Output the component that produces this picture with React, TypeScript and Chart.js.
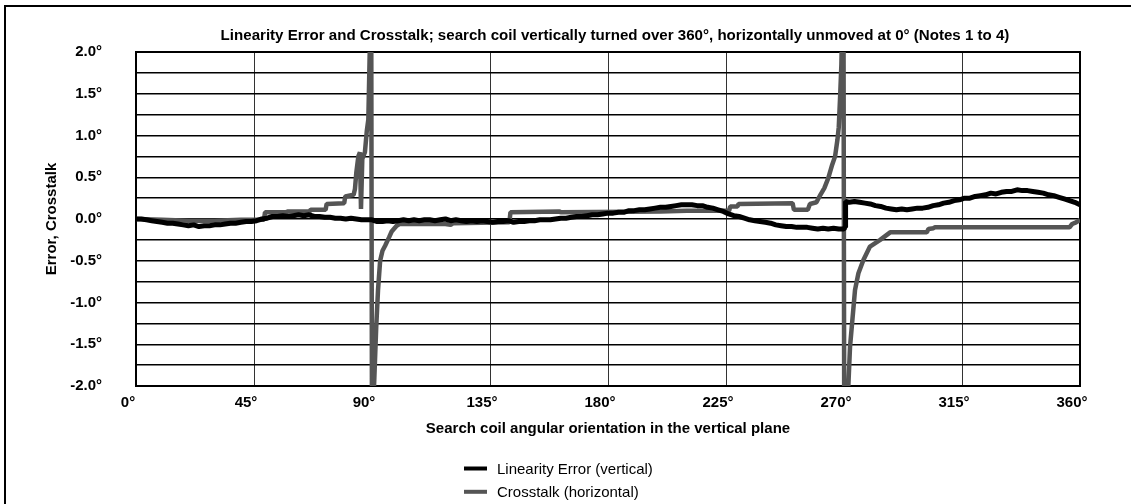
import React, { useEffect, useRef } from "react";
import { Chart, registerables } from "chart.js";

Chart.register(...registerables);

const FONT = '"Liberation Sans", Arial, Helvetica, sans-serif';

const CHART_TITLE =
  "Linearity Error and Crosstalk; search coil vertically turned over 360°, horizontally unmoved at 0° (Notes 1 to 4)";
const X_AXIS_TITLE = "Search coil angular orientation in the vertical plane";
const Y_AXIS_TITLE = "Error, Crosstalk";
const SERIES_NAMES = ["Linearity Error (vertical)", "Crosstalk (horizontal)"];
const SERIES_COLORS = ["#000000", "#555555"];

const X_TICKS = [0, 45, 90, 135, 180, 225, 270, 315, 360];
const Y_MIN = -2;
const Y_MAX = 2;

// Linearity error (vertical), degrees
const linAngles = [
  0, 2, 4, 6, 8, 10, 12, 14, 16, 18, 20, 22, 24, 26, 28, 30, 32, 34, 36, 38, 40, 42, 44, 46,
  48, 50, 52, 54, 56, 58, 60, 62, 64, 66, 68, 70, 72, 74, 76, 78, 80, 82, 84, 86, 88, 90,
  92, 94, 96, 98, 100, 102, 104, 106, 108, 110, 112, 114, 116, 118, 120, 122, 124, 126, 128, 130, 132, 134,
  136, 138, 140, 142, 144, 146, 148, 150, 152, 154, 156, 158, 160, 162, 164, 166, 168, 170, 172, 174, 176, 178,
  180, 182, 184, 186, 188, 190, 192, 194, 196, 198, 200, 202, 204, 206, 208, 210, 212, 214, 216, 218, 220, 222,
  224, 226, 228, 230, 232, 234, 236, 238, 240, 242, 244, 246, 248, 250, 252, 254, 256, 258, 260, 262, 264, 266, 268, 270,
  270.4, 270.6,
  272, 274, 276, 278, 280, 282, 284, 286, 288, 290, 292, 294, 296, 298, 300, 302, 304, 306, 308, 310, 312, 314,
  316, 318, 320, 322, 324, 326, 328, 330, 332, 334, 336, 338, 340, 342, 344, 346, 348, 350, 352, 354, 356, 358, 360,
];
const linValues = [
  0.0, 0.0, -0.01, -0.02, -0.03, -0.04, -0.05, -0.05, -0.06, -0.07, -0.08, -0.07, -0.09, -0.08, -0.08, -0.07, -0.07, -0.06, -0.05, -0.05, -0.04, -0.03, -0.03, -0.02,
  0.0, 0.01, 0.03, 0.03, 0.04, 0.03, 0.04, 0.05, 0.04, 0.05, 0.03, 0.03, 0.02, 0.02, 0.01, 0.01, 0.0, 0.01, 0.0, -0.01, -0.01, -0.01,
  -0.03, -0.03, -0.02, -0.03, -0.02, -0.01, -0.02, -0.01, -0.02, -0.01, -0.01, -0.02, -0.01, 0.0, -0.02, -0.01, -0.02, -0.03, -0.02, -0.03, -0.02, -0.03,
  -0.04, -0.03, -0.03, -0.02, -0.04, -0.03, -0.03, -0.02, -0.02, -0.01, -0.01, -0.01, 0.0, 0.01, 0.01, 0.02, 0.03, 0.03, 0.04, 0.05, 0.05, 0.06,
  0.07, 0.07, 0.08, 0.08, 0.1, 0.1, 0.11, 0.11, 0.12, 0.13, 0.14, 0.14, 0.15, 0.16, 0.17, 0.17, 0.17, 0.16, 0.16, 0.14, 0.13, 0.11,
  0.09, 0.06, 0.04, 0.03, 0.01, -0.01, -0.02, -0.03, -0.04, -0.05, -0.07, -0.08, -0.09, -0.09, -0.1, -0.1, -0.1, -0.11, -0.12, -0.11, -0.12, -0.11, -0.12, -0.12,
  -0.1, 0.21,
  0.2, 0.21, 0.2, 0.19, 0.18, 0.16, 0.15, 0.13, 0.12, 0.11, 0.12, 0.11, 0.12, 0.13, 0.13, 0.14, 0.16, 0.17, 0.19, 0.2, 0.22, 0.23,
  0.25, 0.25, 0.27, 0.28, 0.29, 0.31, 0.3, 0.32, 0.33, 0.33, 0.35, 0.34, 0.34, 0.33, 0.32, 0.31, 0.29, 0.28, 0.26, 0.24, 0.22, 0.2, 0.17,
];

// Crosstalk (horizontal), degrees
const crossAngles = [
  0, 10, 20, 30, 40, 48.8, 49.2, 57, 58, 66.2, 66.6, 72.3, 72.7, 79.4, 79.8, 83.0, 83.5, 84.0, 84.8, 85.4,
  85.8, 86.3, 87.3, 88.0, 88.6, 89.2, 89.7, 90.0, 90.9, 91.6, 92.3, 93.1, 94.0, 95.0, 96.5, 97.5, 99.4,
  100.5, 118, 120, 121, 142.4, 142.8, 161.5, 162, 200, 210, 226.2, 226.6, 229.4, 229.8, 250.4, 250.9,
  256.2, 257, 259.5, 261, 262.5, 264, 265.5, 266.6, 267.5, 268, 268.5, 269, 269.5, 269.8, 270.1, 271.0,
  271.7, 272.3, 273.3, 274.2, 275.5, 277.4, 279.9, 283.8, 287.6, 301.6, 302.2, 304.1, 304.6, 356, 357,
  358.5, 360,
];
const crossValues = [
  0.0, -0.01, -0.02, -0.02, -0.01, -0.01, 0.08, 0.08, 0.09, 0.09, 0.11, 0.11, 0.18, 0.19, 0.27, 0.29, 0.36, 0.55, 0.75, 0.8,
  0.12, 0.72, 0.8, 1.05, 1.19, 2.1, 2.6, -2.6, -1.9, -1.3, -0.85, -0.5, -0.38, -0.32, -0.22, -0.15, -0.08,
  -0.06, -0.06, -0.07, -0.05, -0.04, 0.08, 0.09, 0.08, 0.09, 0.1, 0.1, 0.15, 0.15, 0.18, 0.19, 0.11,
  0.11, 0.18, 0.2, 0.29, 0.37, 0.49, 0.65, 0.75, 0.95, 1.1, 1.45, 1.85, 2.6, 2.6, -2.6, -2.3,
  -1.97, -1.53, -1.17, -0.85, -0.65, -0.49, -0.33, -0.25, -0.16, -0.16, -0.12, -0.11, -0.1, -0.1, -0.06,
  -0.04, -0.01,
];

const decorPlugin = {
  id: "decor",
  beforeDatasetsDraw(chart: any) {
    const { ctx, chartArea: a } = chart;
    ctx.save();
    ctx.strokeStyle = "#000";
    ctx.lineWidth = 2;
    ctx.strokeRect(a.left, a.top, a.right - a.left, a.bottom - a.top);
    ctx.restore();
  },
  afterDraw(chart: any) {
    const ctx = chart.ctx;
    ctx.save();
    ctx.fillStyle = "#000";
    ctx.font = `bold 15.1px ${FONT}`;
    ctx.textAlign = "center";
    ctx.textBaseline = "alphabetic";
    ctx.fillText(CHART_TITLE, 615, 39.5);
    ctx.font = `15px ${FONT}`;
    ctx.textAlign = "left";
    chart.data.datasets.forEach((ds: any, i: number) => {
      const y = 468.5 + i * 23.3;
      ctx.strokeStyle = ds.borderColor;
      ctx.lineWidth = 4;
      ctx.beginPath();
      ctx.moveTo(464, y);
      ctx.lineTo(487, y);
      ctx.stroke();
      ctx.fillText(ds.label, 497, y + 5.4);
    });
    ctx.restore();
  },
};

export default function App() {
  const canvasRef = useRef<HTMLCanvasElement | null>(null);

  useEffect(() => {
    const canvas = canvasRef.current;
    if (!canvas) return;
    Chart.defaults.font.family = FONT;
    Chart.defaults.color = "#000";
    const chart = new Chart(canvas, {
      type: "line",
      data: {
        datasets: [
          {
            label: SERIES_NAMES[0],
            data: linAngles.map((a, i) => ({ x: a, y: linValues[i] })),
            borderColor: SERIES_COLORS[0],
            backgroundColor: SERIES_COLORS[0],
            borderWidth: 5,
            pointRadius: 0,
            tension: 0,
            borderJoinStyle: "bevel",
            clip: 0,
          },
          {
            label: SERIES_NAMES[1],
            data: crossAngles.map((a, i) => ({ x: a, y: crossValues[i] })),
            borderColor: SERIES_COLORS[1],
            backgroundColor: SERIES_COLORS[1],
            borderWidth: 4.5,
            pointRadius: 0,
            tension: 0,
            borderJoinStyle: "bevel",
            clip: 0,
          },
        ],
      },
      options: {
        animation: false,
        responsive: false,
        devicePixelRatio: 1,
        layout: { padding: { left: 39, right: 51, top: 52, bottom: 63 } },
        plugins: {
          legend: { display: false },
          title: { display: false },
          tooltip: { enabled: false },
        },
        scales: {
          x: {
            type: "linear",
            min: 0,
            max: 360,
            afterBuildTicks: (s: any) => {
              s.ticks = X_TICKS.map((v) => ({ value: v }));
            },
            afterFit: (s: any) => {
              s.height = 55;
            },
            ticks: {
              autoSkip: false,
              maxRotation: 0,
              padding: 8,
              labelOffset: -8,
              font: { size: 15, weight: "bold" },
              color: "#000",
              callback: (v: any) => `${v}°`,
            },
            grid: { color: "#333", lineWidth: 1, drawTicks: false },
            border: { display: false },
            title: {
              display: true,
              text: X_AXIS_TITLE,
              font: { size: 15, weight: "bold" },
              color: "#000",
              padding: { top: 0, bottom: 3 },
            },
          },
          y: {
            type: "linear",
            min: Y_MIN,
            max: Y_MAX,
            afterFit: (s: any) => {
              s.width = 97;
            },
            ticks: {
              stepSize: 0.25,
              autoSkip: false,
              padding: 34,
              font: { size: 15, weight: "bold" },
              color: "#000",
              callback: (v: any) => {
                const n = Number(v);
                return Math.abs(n * 2 - Math.round(n * 2)) < 1e-9 ? `${n.toFixed(1)}°` : "";
              },
            },
            grid: { color: "#000", lineWidth: 1.5, drawTicks: false },
            border: { display: false },
            title: {
              display: true,
              text: Y_AXIS_TITLE,
              font: { size: 15, weight: "bold" },
              color: "#000",
              padding: { top: 4, bottom: 4 },
            },
          },
        },
      },
      plugins: [decorPlugin],
    } as any);
    return () => chart.destroy();
  }, []);

  return (
    <div
      style={{
        position: "fixed",
        left: 0,
        top: 0,
        width: 1131,
        height: 504,
        background: "#fff",
        overflow: "hidden",
      }}
    >
      <div
        style={{
          position: "absolute",
          left: 4,
          top: 5,
          width: 1200,
          height: 600,
          borderLeft: "2px solid #000",
          borderTop: "2px solid #000",
        }}
      />
      <canvas
        ref={canvasRef}
        width={1131}
        height={504}
        style={{ position: "absolute", left: 0, top: 0, width: 1131, height: 504 }}
      />
    </div>
  );
}
